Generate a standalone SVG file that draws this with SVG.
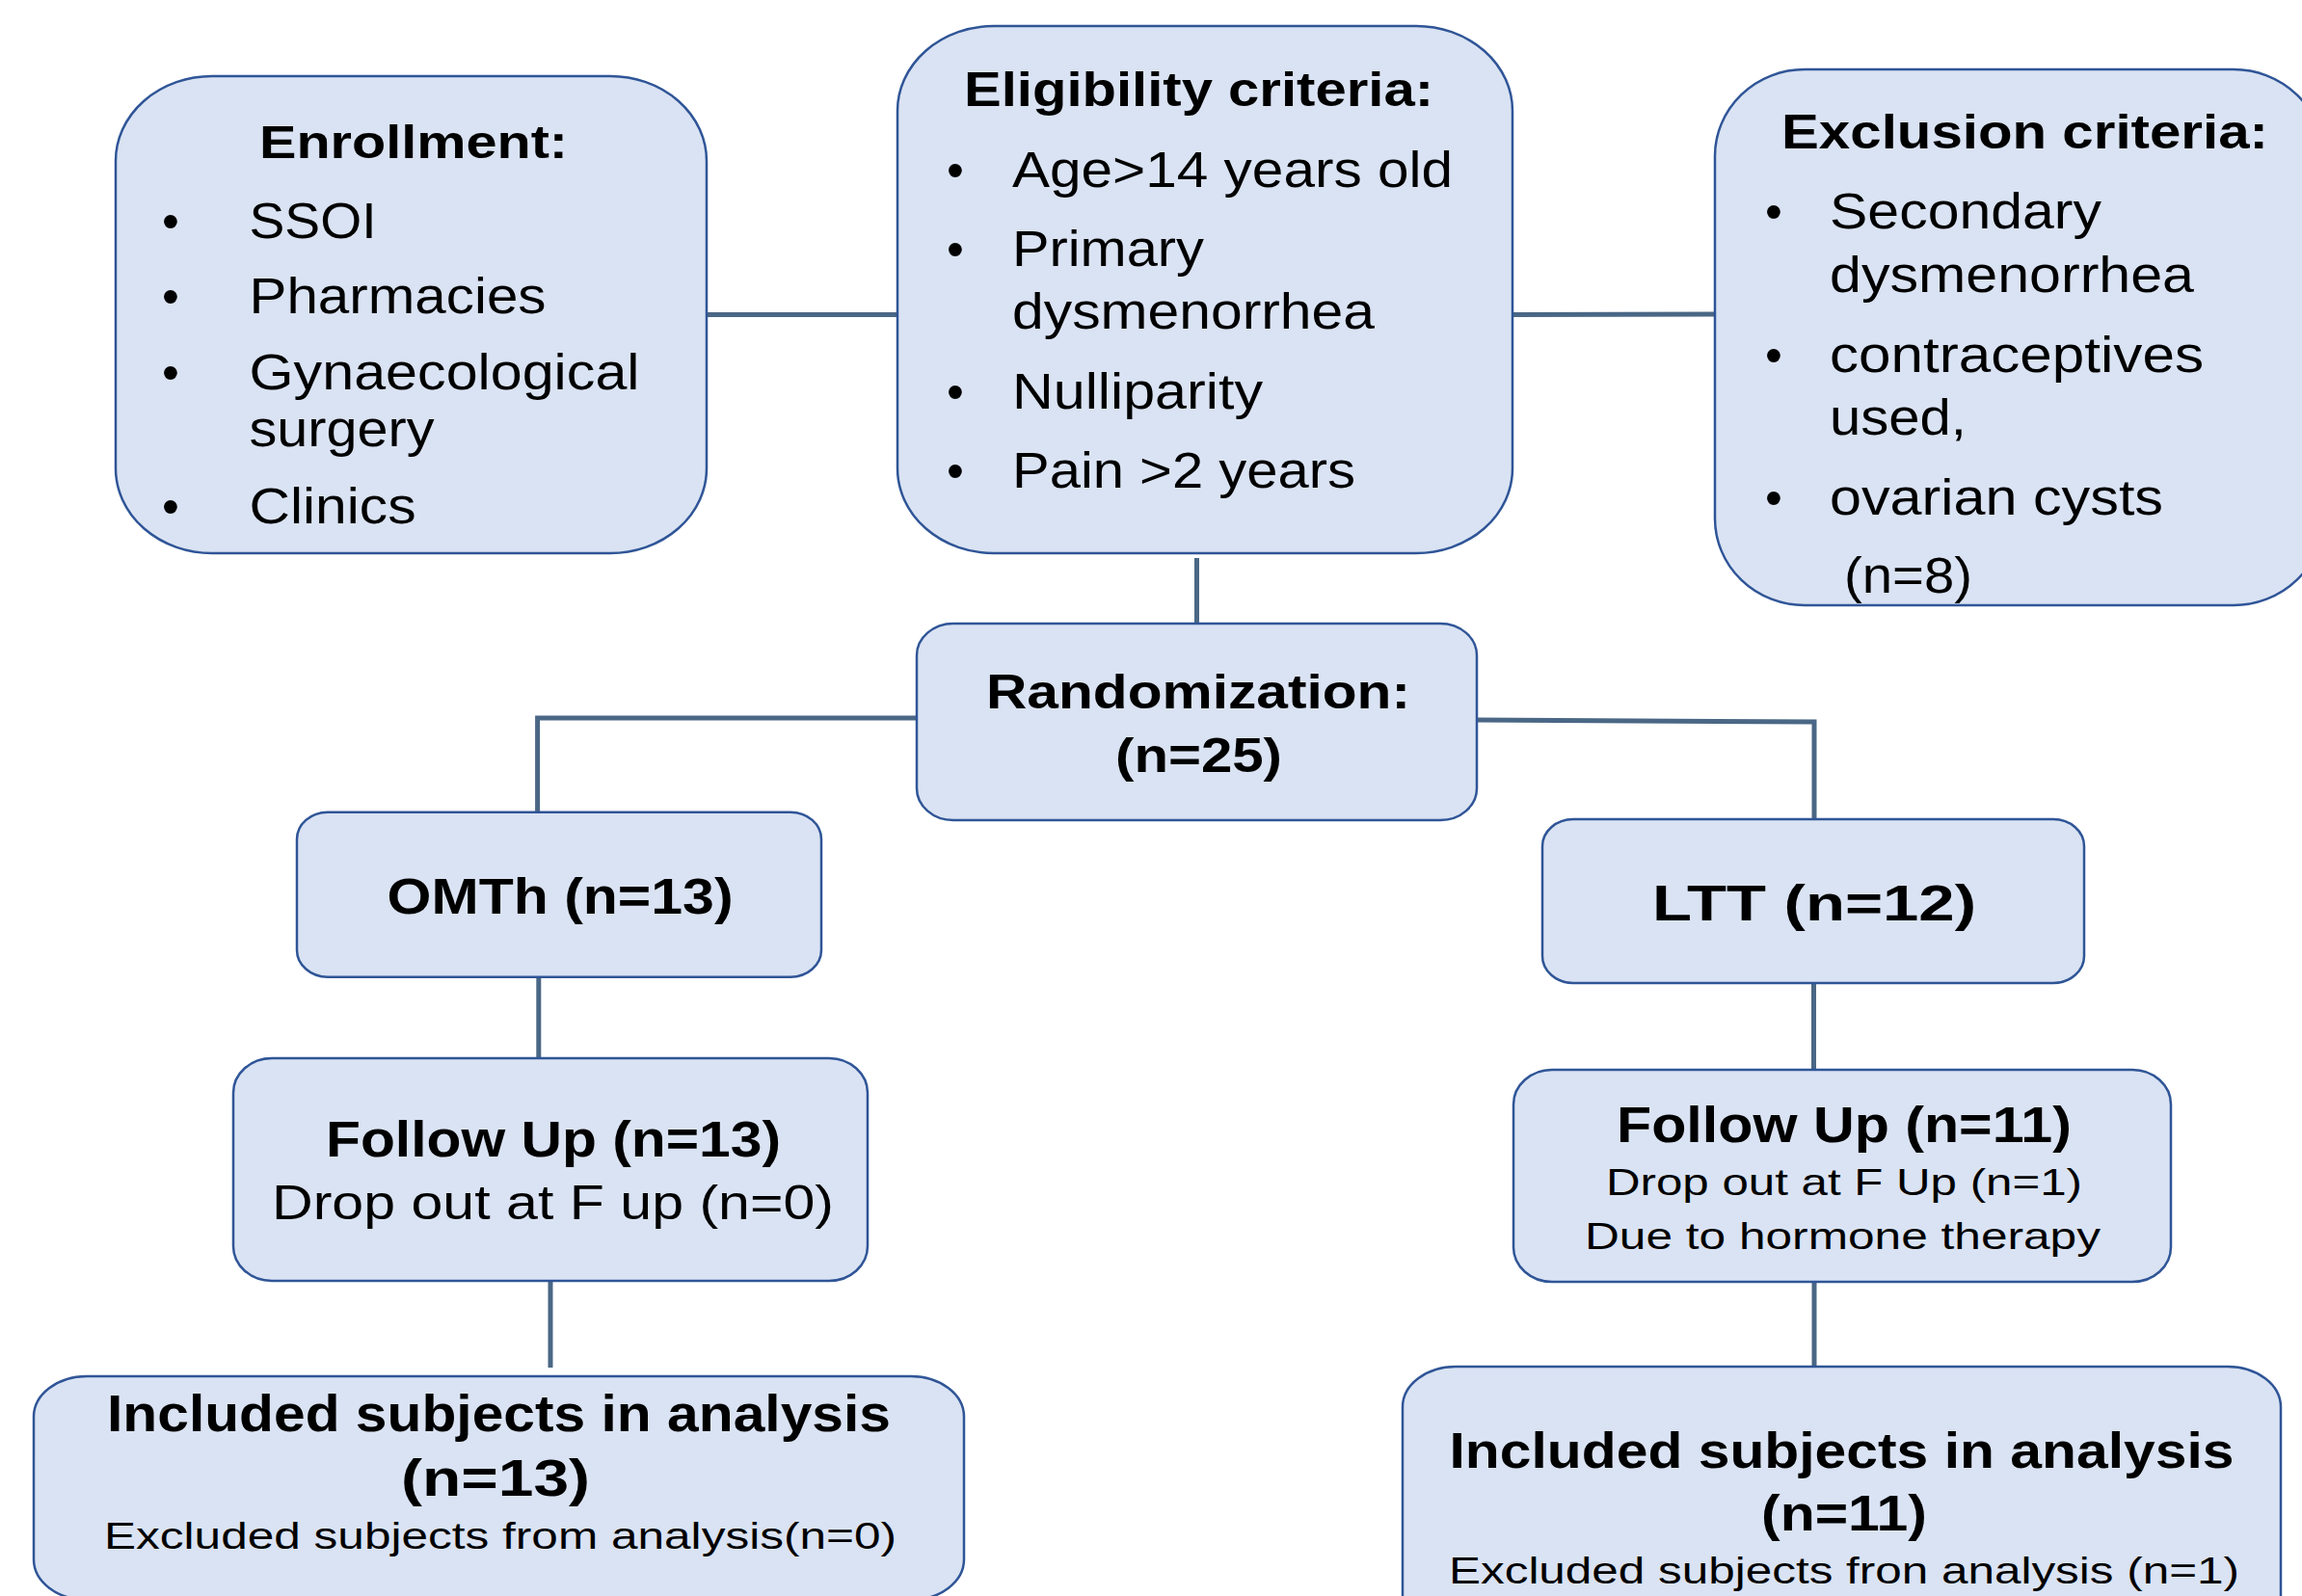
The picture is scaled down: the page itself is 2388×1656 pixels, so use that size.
<svg xmlns="http://www.w3.org/2000/svg" width="2388" height="1656" viewBox="0 0 2388 1656">
<style>
.box{fill:#DAE3F3;stroke:#2F5597;stroke-width:2.5}
.con{fill:none;stroke:#4A6785;stroke-width:5}
text{font-family:"Liberation Sans",Arial,sans-serif;fill:#000}
.b{font-weight:bold}
</style>
<rect width="2388" height="1656" fill="#fff"/>
<g id="connectors">
<path class="con" d="M733 326.5H931"/>
<path class="con" d="M1569 326.5L1779 326"/>
<path class="con" d="M1241.5 579V647"/>
<path class="con" d="M951 745H557.6V842.7"/>
<path class="con" d="M1532 747L1882 749V850"/>
<path class="con" d="M558.8 1014V1098"/>
<path class="con" d="M571 1329V1419"/>
<path class="con" d="M1881.5 1020V1111"/>
<path class="con" d="M1882 1330V1419"/>
</g>
<g id="enrollment">
<rect class="box" x="120" y="79" width="613" height="495" rx="100" ry="88"/>
<text class="b" x="269" y="164" font-size="49" textLength="320" lengthAdjust="spacingAndGlyphs">Enrollment:</text>
<g font-size="51">
<text x="177" y="247" text-anchor="middle">•</text>
<text x="177" y="325" text-anchor="middle">•</text>
<text x="177" y="404" text-anchor="middle">•</text>
<text x="177" y="543" text-anchor="middle">•</text>
<text x="258.5" y="247" textLength="132" lengthAdjust="spacingAndGlyphs">SSOI</text>
<text x="258.5" y="325" textLength="308" lengthAdjust="spacingAndGlyphs">Pharmacies</text>
<text x="258.5" y="404" textLength="405" lengthAdjust="spacingAndGlyphs">Gynaecological</text>
<text x="258.5" y="463" textLength="192" lengthAdjust="spacingAndGlyphs">surgery</text>
<text x="258.5" y="543" textLength="173" lengthAdjust="spacingAndGlyphs">Clinics</text>
</g>
</g>
<g id="eligibility">
<rect class="box" x="931" y="27" width="638" height="547" rx="100" ry="88"/>
<text class="b" x="1000" y="110" font-size="50" textLength="487" lengthAdjust="spacingAndGlyphs">Eligibility criteria:</text>
<g font-size="51">
<text x="991" y="194" text-anchor="middle">•</text>
<text x="991" y="275.5" text-anchor="middle">•</text>
<text x="991" y="423.6" text-anchor="middle">•</text>
<text x="991" y="506" text-anchor="middle">•</text>
<text x="1050" y="194" textLength="457" lengthAdjust="spacingAndGlyphs">Age&gt;14 years old</text>
<text x="1050" y="275.5" textLength="199" lengthAdjust="spacingAndGlyphs">Primary</text>
<text x="1050" y="341" textLength="376" lengthAdjust="spacingAndGlyphs">dysmenorrhea</text>
<text x="1050" y="423.6" textLength="260" lengthAdjust="spacingAndGlyphs">Nulliparity</text>
<text x="1050" y="506" textLength="356" lengthAdjust="spacingAndGlyphs">Pain &gt;2 years</text>
</g>
</g>
<g id="exclusion">
<rect class="box" x="1779" y="72" width="631" height="556" rx="93" ry="90"/>
<text class="b" x="1848" y="154" font-size="50" textLength="505" lengthAdjust="spacingAndGlyphs">Exclusion criteria:</text>
<g font-size="51">
<text x="1840" y="237" text-anchor="middle">•</text>
<text x="1840" y="386" text-anchor="middle">•</text>
<text x="1840" y="534" text-anchor="middle">•</text>
<text x="1898" y="237" textLength="282" lengthAdjust="spacingAndGlyphs">Secondary</text>
<text x="1898" y="302.5" textLength="378" lengthAdjust="spacingAndGlyphs">dysmenorrhea</text>
<text x="1898" y="386" textLength="388" lengthAdjust="spacingAndGlyphs">contraceptives</text>
<text x="1898" y="450.5" textLength="142" lengthAdjust="spacingAndGlyphs">used,</text>
<text x="1898" y="534" textLength="346" lengthAdjust="spacingAndGlyphs">ovarian cysts</text>
<text x="1913" y="615" textLength="133" lengthAdjust="spacingAndGlyphs">(n=8)</text>
</g>
</g>
<g id="randomization">
<rect class="box" x="951" y="647" width="581" height="204" rx="38" ry="33"/>
<text class="b" x="1023" y="735" font-size="50" textLength="440" lengthAdjust="spacingAndGlyphs">Randomization:</text>
<text class="b" x="1157" y="801" font-size="50" textLength="173" lengthAdjust="spacingAndGlyphs">(n=25)</text>
</g>
<g id="omth">
<rect class="box" x="308" y="842.7" width="544" height="171" rx="32" ry="28"/>
<text class="b" x="401.6" y="948" font-size="51" textLength="359" lengthAdjust="spacingAndGlyphs">OMTh (n=13)</text>
</g>
<g id="ltt">
<rect class="box" x="1600" y="850" width="562" height="170" rx="32" ry="28"/>
<text class="b" x="1714" y="955" font-size="52" textLength="336" lengthAdjust="spacingAndGlyphs">LTT (n=12)</text>
</g>
<g id="followup-left">
<rect class="box" x="242" y="1098" width="658" height="231" rx="40" ry="36"/>
<text class="b" x="338" y="1200" font-size="51" textLength="472" lengthAdjust="spacingAndGlyphs">Follow Up (n=13)</text>
<text x="282" y="1265" font-size="50" textLength="583" lengthAdjust="spacingAndGlyphs">Drop out at F up (n=0)</text>
</g>
<g id="followup-right">
<rect class="box" x="1570" y="1110" width="682" height="220" rx="40" ry="36"/>
<text class="b" x="1677" y="1185" font-size="51" textLength="472" lengthAdjust="spacingAndGlyphs">Follow Up (n=11)</text>
<text x="1666" y="1240" font-size="39.5" textLength="494" lengthAdjust="spacingAndGlyphs">Drop out at F Up (n=1)</text>
<text x="1644" y="1296" font-size="39" textLength="535" lengthAdjust="spacingAndGlyphs">Due to hormone therapy</text>
</g>
<g id="included-left">
<rect class="box" x="35" y="1428" width="965" height="232" rx="55" ry="42"/>
<text class="b" x="111" y="1485" font-size="53" textLength="813" lengthAdjust="spacingAndGlyphs">Included subjects in analysis</text>
<text class="b" x="416" y="1552" font-size="53" textLength="196" lengthAdjust="spacingAndGlyphs">(n=13)</text>
<text x="108" y="1607" font-size="38" textLength="822" lengthAdjust="spacingAndGlyphs">Excluded subjects from analysis(n=0)</text>
</g>
<g id="included-right">
<rect class="box" x="1455" y="1418" width="911" height="290" rx="55" ry="42"/>
<text class="b" x="1503.5" y="1523" font-size="52" textLength="814" lengthAdjust="spacingAndGlyphs">Included subjects in analysis</text>
<text class="b" x="1827" y="1588" font-size="52" textLength="172" lengthAdjust="spacingAndGlyphs">(n=11)</text>
<text x="1503" y="1643" font-size="38" textLength="820" lengthAdjust="spacingAndGlyphs">Excluded subjects fron analysis (n=1)</text>
</g>
</svg>
